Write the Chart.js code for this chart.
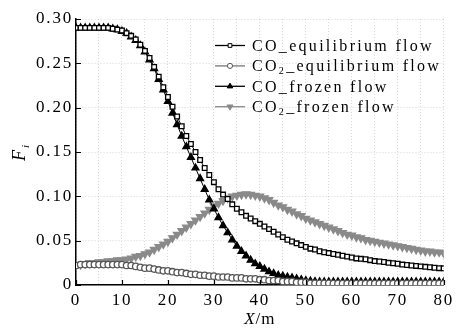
<!DOCTYPE html>
<html>
<head>
<meta charset="utf-8">
<script src="https://cdn.jsdelivr.net/npm/chart.js@4"></script>
<style>
  html, body { margin: 0; padding: 0; background: #fff; }
  #wrap { width: 459px; height: 331px; }
</style>
</head>
<body>
<div id="wrap"><canvas id="chart" width="459" height="331"></canvas></div>
<script>
/* Mole fraction along X: CO / CO2, equilibrium vs frozen flow */
const xPos = [0, 1, 2, 3, 4, 5, 6, 7, 8, 9, 10, 11, 12, 13, 14, 15, 16, 17, 18, 19,
    20, 21, 22, 23, 24, 25, 26, 27, 28, 29, 30, 31, 32, 33, 34, 35, 36, 37, 38, 39,
    40, 41, 42, 43, 44, 45, 46, 47, 48, 49, 50, 51, 52, 53, 54, 55, 56, 57, 58, 59,
    60, 61, 62, 63, 64, 65, 66, 67, 68, 69, 70, 71, 72, 73, 74, 75, 76, 77, 78, 79, 80];

const coEquilibrium = [0.290, 0.290, 0.290, 0.290, 0.290, 0.290, 0.290, 0.290, 0.289, 0.288,
    0.287, 0.284, 0.281, 0.277, 0.271, 0.264, 0.256, 0.246, 0.235, 0.223,
    0.212, 0.201, 0.190, 0.179, 0.168, 0.159, 0.150, 0.141, 0.132, 0.124,
    0.116, 0.108, 0.102, 0.097, 0.091, 0.086, 0.082, 0.078, 0.075, 0.072,
    0.069, 0.066, 0.063, 0.060, 0.057, 0.054, 0.051, 0.049, 0.047, 0.045,
    0.043, 0.041, 0.040, 0.038, 0.037, 0.036, 0.035, 0.034, 0.033, 0.032,
    0.031, 0.030, 0.0295, 0.029, 0.028, 0.027, 0.0265, 0.026, 0.025, 0.0245,
    0.024, 0.023, 0.0225, 0.022, 0.0215, 0.021, 0.0205, 0.020, 0.0195, 0.019, 0.0188];

const co2Equilibrium = [0.022, 0.023, 0.023, 0.023, 0.023, 0.023, 0.023, 0.023, 0.023, 0.023,
    0.023, 0.022, 0.022, 0.021, 0.020, 0.019, 0.019, 0.018, 0.017, 0.016,
    0.016, 0.015, 0.014, 0.014, 0.013, 0.012, 0.012, 0.011, 0.011, 0.010,
    0.010, 0.009, 0.009, 0.009, 0.008, 0.008, 0.008, 0.007, 0.007, 0.007,
    0.006, 0.006, 0.005, 0.005, 0.005, 0.004, 0.004, 0.004, 0.003, 0.003,
    0.003, 0.002, 0.002, 0.002, 0.002, 0.002, 0.0015, 0.0015, 0.0015, 0.0015,
    0.0015, 0.0015, 0.0015, 0.0015, 0.0015, 0.0015, 0.0015, 0.0015, 0.0015, 0.0015,
    0.0015, 0.0015, 0.0015, 0.0015, 0.0015, 0.0015, 0.0015, 0.0015, 0.0015, 0.0015, 0.0015];

const coFrozen = [0.290, 0.290, 0.290, 0.290, 0.290, 0.290, 0.290, 0.290, 0.289, 0.288,
    0.286, 0.284, 0.280, 0.276, 0.270, 0.263, 0.254, 0.244, 0.232, 0.220,
    0.207, 0.194, 0.181, 0.168, 0.156, 0.144, 0.132, 0.120, 0.108, 0.096,
    0.086, 0.076, 0.067, 0.059, 0.051, 0.044, 0.038, 0.033, 0.028, 0.024,
    0.021, 0.018, 0.015, 0.013, 0.011, 0.010, 0.009, 0.008, 0.007, 0.006,
    0.005, 0.0045, 0.004, 0.0035, 0.0035, 0.0035, 0.0035, 0.0035, 0.0035, 0.0035,
    0.0035, 0.0035, 0.0035, 0.0035, 0.0035, 0.0035, 0.0035, 0.0035, 0.0035, 0.0035,
    0.0035, 0.0035, 0.0035, 0.0035, 0.0035, 0.0035, 0.0035, 0.0035, 0.0035, 0.0035, 0.0035];

const co2Frozen = [0.022, 0.023, 0.024, 0.025, 0.025, 0.026, 0.026, 0.027, 0.027, 0.028,
    0.028, 0.029, 0.030, 0.032, 0.033, 0.035, 0.037, 0.040, 0.043, 0.046,
    0.049, 0.053, 0.057, 0.061, 0.065, 0.069, 0.073, 0.077, 0.081, 0.085,
    0.089, 0.092, 0.095, 0.098, 0.100, 0.101, 0.102, 0.1025, 0.102, 0.101,
    0.100, 0.098, 0.096, 0.093, 0.090, 0.088, 0.085, 0.083, 0.080, 0.078,
    0.075, 0.073, 0.071, 0.069, 0.067, 0.065, 0.063, 0.061, 0.059, 0.057,
    0.056, 0.054, 0.053, 0.051, 0.050, 0.049, 0.048, 0.047, 0.046, 0.045,
    0.044, 0.043, 0.042, 0.041, 0.040, 0.039, 0.038, 0.038, 0.037, 0.037, 0.036];

const seriesNames = ['CO_equilibrium flow', 'CO₂_equilibrium flow', 'CO_frozen flow', 'CO₂_frozen flow'];
const xTickLabels = ['0', '10', '20', '30', '40', '50', '60', '70', '80'];
const yTickLabels = ['0', '0.05', '0.10', '0.15', '0.20', '0.25', '0.30'];

const SERIF = "'Liberation Serif', 'Times New Roman', serif";
const SPACING = '1.8px';

const toPoints = ys => xPos.map((x, i) => ({ x: x, y: ys[i] }));

function series(label, ys, style) {
    return Object.assign({
        label: label,
        data: toPoints(ys),
        showLine: true,
        borderWidth: 1,
        pointBorderWidth: 1.3,
        pointHoverRadius: 0
    }, style);
}

// draws text with a "₂" turned into a real lowered subscript
function drawRichText(ctx, text, x, y, size) {
    const parts = text.split('₂');
    let cx = x;
    parts.forEach((part, i) => {
        ctx.font = `${size}px ${SERIF}`;
        ctx.fillText(part, cx, y);
        cx += ctx.measureText(part).width;
        if (i < parts.length - 1) {
            ctx.font = `${Math.round(size * 0.62)}px ${SERIF}`;
            ctx.fillText('2', cx, y + 3);
            cx += ctx.measureText('2').width;
        }
    });
}

const spacingPlugin = {
    id: 'spacing',
    beforeUpdate(chart) { chart.ctx.letterSpacing = SPACING; },
    beforeDraw(chart) { chart.ctx.letterSpacing = SPACING; }
};

const sketchPlugin = {
    id: 'sketch',
    afterDraw(chart) {
        const ctx = chart.ctx;
        const xs = chart.scales.x, ys = chart.scales.y;
        const area = chart.chartArea;

        // inward tick marks on major ticks
        ctx.save();
        ctx.strokeStyle = '#000';
        ctx.lineWidth = 1.2;
        ctx.beginPath();
        xs.ticks.forEach(t => {
            if (!xTickLabels.includes(String(t.value))) return;
            const px = Math.round(xs.getPixelForValue(t.value)) + 0.5;
            ctx.moveTo(px, area.bottom);
            ctx.lineTo(px, area.bottom - 5);
        });
        ys.ticks.forEach(t => {
            if (t.label === '') return;
            const py = Math.round(ys.getPixelForValue(t.value)) + 0.5;
            ctx.moveTo(area.left, py);
            ctx.lineTo(area.left + 5, py);
        });
        ctx.stroke();
        ctx.restore();

        // legend: line + marker + label
        ctx.save();
        ctx.letterSpacing = '2.3px';
        ctx.textBaseline = 'alphabetic';
        chart.data.datasets.forEach((ds, i) => {
            const y = 45.5 + i * 20.4;
            ctx.strokeStyle = ds.borderColor;
            ctx.lineWidth = 1.3;
            ctx.beginPath();
            ctx.moveTo(215, y);
            ctx.lineTo(245, y);
            ctx.stroke();
            ctx.fillStyle = ds.pointBackgroundColor;
            ctx.strokeStyle = ds.pointBorderColor;
            ctx.lineWidth = 1;
            Chart.helpers.drawPoint(ctx, {
                pointStyle: ds.pointStyle,
                rotation: ds.pointRotation || 0,
                radius: ds.pointRadius * 0.8,
                borderWidth: 1
            }, 230, y);
            ctx.fillStyle = '#000';
            drawRichText(ctx, ds.label, 252, y + 5.5, 16);
        });
        ctx.restore();

        // axis titles
        ctx.save();
        ctx.fillStyle = '#000';
        ctx.letterSpacing = '1px';
        ctx.textBaseline = 'alphabetic';
        ctx.font = `italic 17px ${SERIF}`;
        const xw = ctx.measureText('X').width;
        ctx.font = `17px ${SERIF}`;
        const mw = ctx.measureText('/m').width;
        let tx = (area.left + area.right) / 2 - (xw + mw) / 2;
        ctx.font = `italic 17px ${SERIF}`;
        ctx.fillText('X', tx, 324);
        ctx.font = `17px ${SERIF}`;
        ctx.fillText('/m', tx + xw, 324);

        ctx.translate(25, 152);
        ctx.rotate(-Math.PI / 2);
        ctx.font = `italic 18px ${SERIF}`;
        const fw = ctx.measureText('F').width;
        ctx.fillText('F', -fw / 2 - 3, 0);
        ctx.font = `italic 11px ${SERIF}`;
        ctx.fillText('i', fw / 2 - 2, 4);
        ctx.restore();
    }
};

new Chart(document.getElementById('chart'), {
    type: 'scatter',
    data: {
        datasets: [
            series(seriesNames[0], coEquilibrium, {
                borderColor: '#000', pointBorderColor: '#000', pointBackgroundColor: '#fff',
                pointStyle: 'rect', pointRadius: 3.3
            }),
            series(seriesNames[1], co2Equilibrium, {
                borderColor: '#777', pointBorderColor: '#555', pointBackgroundColor: '#fff',
                pointStyle: 'circle', pointRadius: 3.2
            }),
            series(seriesNames[2], coFrozen, {
                borderColor: '#000', pointBorderColor: '#000', pointBackgroundColor: '#000',
                pointStyle: 'triangle', pointRadius: 4
            }),
            series(seriesNames[3], co2Frozen, {
                borderColor: '#8a8a8a', pointBorderColor: '#8a8a8a', pointBackgroundColor: '#8a8a8a',
                pointStyle: 'triangle', pointRotation: 180, pointRadius: 4.3
            })
        ]
    },
    options: {
        responsive: false,
        animation: false,
        events: [],
        layout: { padding: { top: 19, right: 13, left: 0, bottom: 0 } },
        plugins: {
            legend: { display: false },
            tooltip: { enabled: false }
        },
        scales: {
            x: {
                type: 'linear',
                min: 0,
                max: 80,
                afterFit: s => { s.height = 46; },
                ticks: {
                    stepSize: 5,
                    autoSkip: false,
                    maxRotation: 0,
                    padding: 5,
                    color: '#000',
                    font: { family: SERIF, size: 17 },
                    callback: v => xTickLabels.includes(String(v)) ? String(v) : ''
                },
                grid: { color: 'rgba(0,0,0,0.14)', lineWidth: 1, drawTicks: false },
                border: { display: true, color: '#000', width: 1.5, dash: [1, 2] }
            },
            y: {
                min: 0,
                max: 0.3,
                afterFit: s => { s.width = 76; },
                ticks: {
                    stepSize: 0.025,
                    padding: 3,
                    color: '#000',
                    font: { family: SERIF, size: 17 },
                    callback: v => {
                        const lbl = v === 0 ? '0' : v.toFixed(2);
                        return yTickLabels.includes(lbl) ? lbl : '';
                    }
                },
                grid: { color: 'rgba(0,0,0,0.14)', lineWidth: 1, drawTicks: false },
                border: { display: true, color: '#000', width: 1.5, dash: [1, 2] }
            }
        }
    },
    plugins: [spacingPlugin, sketchPlugin]
});
</script>
</body>
</html>
